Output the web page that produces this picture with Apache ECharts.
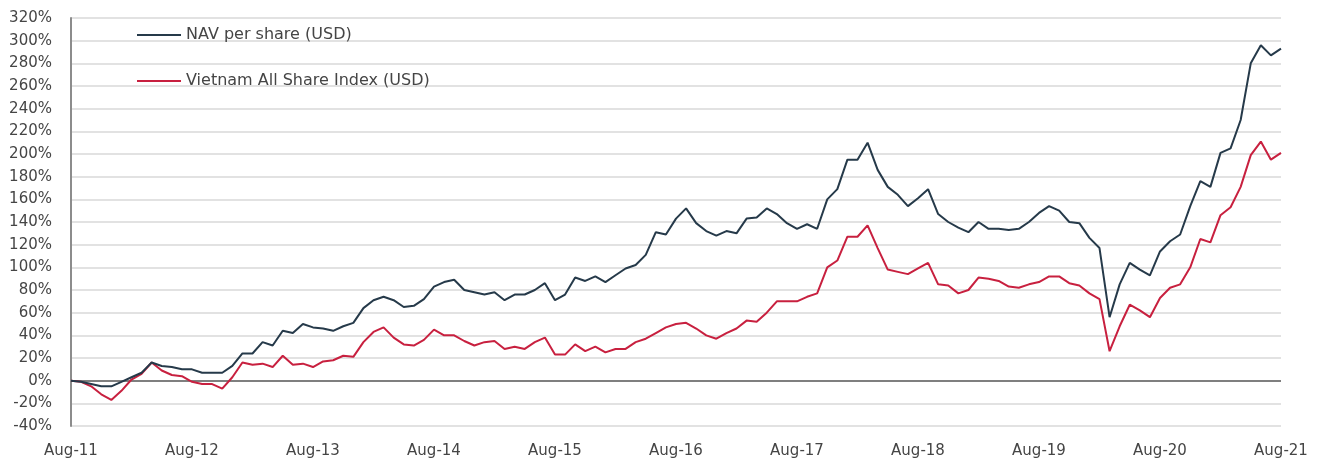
<!DOCTYPE html>
<html>
<head>
<meta charset="utf-8">
<script src="https://cdn.jsdelivr.net/npm/echarts@6/dist/echarts.min.js"></script>
<style>
  html, body { margin: 0; padding: 0; background: #fff; }
  #chart { width: 1324px; height: 464px; }
</style>
</head>
<body>
<div id="chart"></div>
<script>
// monthly, Aug-11 .. Aug-21 (121 points), cumulative return in %
const monthNames = ["Aug", "Sep", "Oct", "Nov", "Dec", "Jan", "Feb", "Mar", "Apr", "May", "Jun", "Jul"];
const firstYear = 11;
const lastYear = 21;

const navPerShare = [
  0, -1, -3, -5, -5, -1, 3, 7, 16, 13, 12, 10,
  10, 7, 7, 7, 13, 24, 24, 34, 31, 44, 42, 50,
  47, 46, 44, 48, 51, 64, 71, 74, 71, 65, 66, 72,
  83, 87, 89, 80, 78, 76, 78, 71, 76, 76, 80, 86,
  71, 76, 91, 88, 92, 87, 93, 99, 102, 111, 131, 129,
  143, 152, 139, 132, 128, 132, 130, 143, 144, 152, 147, 139,
  134, 138, 134, 160, 169, 195, 195, 210, 186, 171, 164, 154,
  161, 169, 147, 140, 135, 131, 140, 134, 134, 133, 134, 140,
  148, 154, 150, 140, 139, 126, 117, 56, 85, 104, 98, 93,
  114, 123, 129, 154, 176, 171, 201, 205, 230, 280, 296, 287,
  293
];

const vnAllShare = [
  0, -1, -5, -12, -17, -9, 1, 6, 16, 9, 5, 4,
  -1, -3, -3, -7, 3, 16, 14, 15, 12, 22, 14, 15,
  12, 17, 18, 22, 21, 34, 43, 47, 38, 32, 31, 36,
  45, 40, 40, 35, 31, 34, 35, 28, 30, 28, 34, 38,
  23, 23, 32, 26, 30, 25, 28, 28, 34, 37, 42, 47,
  50, 51, 46, 40, 37, 42, 46, 53, 52, 60, 70, 70,
  70, 74, 77, 100, 106, 127, 127, 137, 117, 98, 96, 94,
  99, 104, 85, 84, 77, 80, 91, 90, 88, 83, 82, 85,
  87, 92, 92, 86, 84, 77, 72, 26, 48, 67, 62, 56,
  73, 82, 85, 100, 125, 122, 146, 153, 171, 199, 211, 195,
  201
];

const months = [];
for (let y = firstYear; y <= lastYear; y++) {
  monthNames.forEach((m, k) => {
    const yy = k < 5 ? y : y + 1;
    if (y === lastYear && k > 0) return;
    months.push(m + "-" + yy);
  });
}

const textColor = "#454545";
const fontFamily = "'DejaVu Sans', 'Noto Sans', sans-serif";

const chart = echarts.init(document.getElementById("chart"));

const option = {
  animation: false,
  backgroundColor: "#ffffff",
  textStyle: { fontFamily: fontFamily },
  grid: {
    left: 71,
    right: 43,
    top: 18,
    bottom: 38,
  },
  legend: {
    orient: "vertical",
    left: 137,
    top: 27,
    padding: 0,
    itemGap: 30,
    itemWidth: 44,
    itemHeight: 2,
    icon: "rect",
    textStyle: {
      fontSize: 16,
      color: textColor,
      fontFamily: fontFamily,
    },
    data: ["NAV per share (USD)", "Vietnam All Share Index (USD)"],
  },
  xAxis: {
    type: "category",
    data: months,
    boundaryGap: false,
    axisLine: { show: false, onZero: false },
    axisTick: { show: false },
    axisLabel: {
      interval: 11,
      margin: 18,
      fontSize: 15,
      color: textColor,
      fontFamily: fontFamily,
    },
    splitLine: { show: false },
  },
  yAxis: {
    type: "value",
    min: -40,
    max: 320,
    interval: 20,
    axisLine: { show: true, lineStyle: { color: "#8c8c8c", width: 2 } },
    axisTick: { show: false },
    axisLabel: {
      formatter: "{value}%",
      margin: 19,
      fontSize: 15,
      color: textColor,
      fontFamily: fontFamily,
    },
    splitLine: { lineStyle: { color: "#d9d9d9", width: 1.5 } },
  },
  series: [
    {
      name: "Vietnam All Share Index (USD)",
      type: "line",
      data: vnAllShare,
      symbol: "none",
      lineStyle: { color: "#c8203f", width: 2 },
      itemStyle: { color: "#c8203f" },
      z: 3,
    },
    {
      name: "NAV per share (USD)",
      type: "line",
      data: navPerShare,
      symbol: "none",
      lineStyle: { color: "#263a4a", width: 2 },
      itemStyle: { color: "#263a4a" },
      z: 4,
      markLine: {
        silent: true,
        symbol: ["none", "none"],
        label: { show: false },
        lineStyle: { color: "#7f7f7f", width: 2, type: "solid" },
        data: [{ yAxis: 0 }],
        z: 2,
      },
    },
  ],
};

chart.setOption(option);
</script>
</body>
</html>
